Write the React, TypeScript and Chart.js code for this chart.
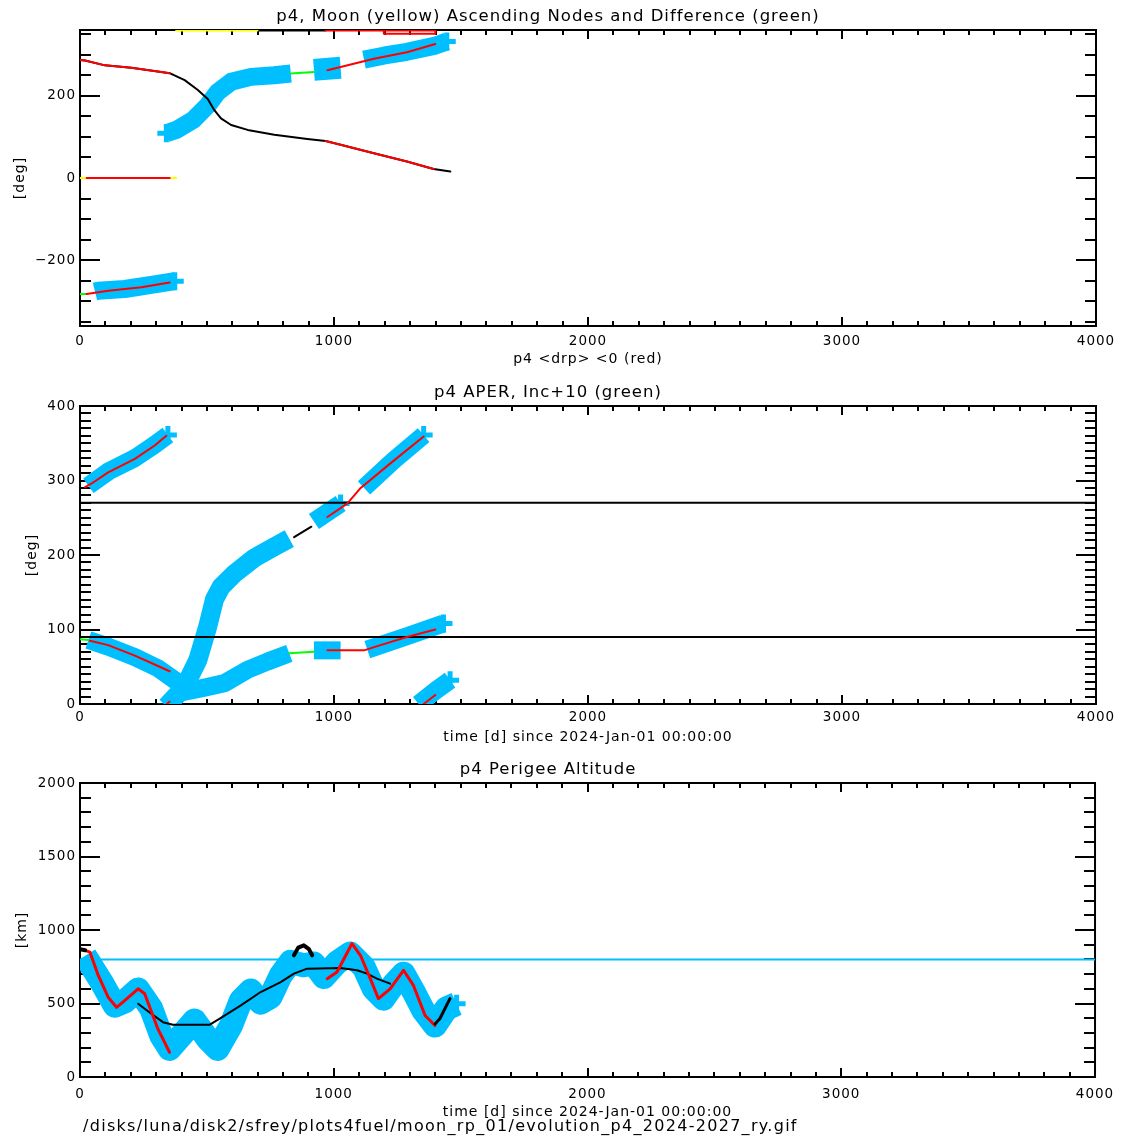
import React, { useEffect, useRef } from "react";
import { Chart, registerables } from "chart.js";

Chart.register(...registerables);

const FONT = "'DejaVu Sans', sans-serif";
const CYAN = "#00bfff";
const RED = "#ff0000";
const BLACK = "#000000";
const YELLOW = "#ffff00";
const GREEN = "#00ff00";

// ---------- shared axis values ----------
const X_TICKS = [0, 1000, 2000, 3000, 4000];
const X_MIN = 0;
const X_MAX = 4000;

// ---------- panel 1: ascending nodes (deg) ----------
const P1_Y_TICKS = [-200, 0, 200];
const P1_Y_MIN = -360;
const P1_Y_MAX = 360;

const P1_NODE_DAYS = [0, 20, 98, 202, 320, 353, 412, 464, 503, 529, 555, 595, 660, 765, 895, 967, 1026, 1157, 1287, 1392, 1458];
const P1_NODE_DEG = [287, 286, 274, 268, 258, 255, 238, 214, 192, 165, 145, 129, 117, 105, 95, 90, 81, 60, 40, 22, 16];
const P1_NODE_RED_A_DAYS = [0, 20, 98, 202, 320, 353];
const P1_NODE_RED_A_DEG = [287, 286, 274, 268, 258, 255];
const P1_NODE_RED_B_DAYS = [967, 1026, 1157, 1287, 1392];
const P1_NODE_RED_B_DEG = [90, 81, 60, 40, 22];

const P1_MOON_LOW_DAYS = [0, 379];
const P1_MOON_LOW_DEG = [0, 0];
const P1_MOON_LOW_RED_DAYS = [26, 353];
const P1_MOON_LOW_RED_DEG = [0, 0];
const P1_MOON_TOP_Y_DAYS = [379, 699];
const P1_MOON_TOP_Y_DEG = [359, 359];
const P1_MOON_TOP_K_DAYS = [699, 967];
const P1_MOON_TOP_K_DEG = [359, 359];
const P1_MOON_TOP_R_DAYS = [967, 1399];
const P1_MOON_TOP_R_DEG = [359, 359];
const P1_MOON_TOP_R2_DAYS = [1196, 1196, 1399, 1399];
const P1_MOON_TOP_R2_DEG = [359, 351, 351, 359];

const P1_BAND_A_DAYS = [59, 72, 176, 281, 373];
const P1_BAND_A_DEG = [-276, -274, -270, -260, -251];
const P1_BAND_B_DAYS = [340, 379, 445, 503, 542, 595, 673, 765, 830];
const P1_BAND_B_DEG = [109, 117, 141, 177, 209, 234, 246, 250, 254];
const P1_BAND_C_DAYS = [921, 1026];
const P1_BAND_C_DEG = [263, 268];
const P1_BAND_D_DAYS = [1118, 1200, 1287, 1399, 1444];
const P1_BAND_D_DEG = [288, 298, 307, 322, 332];

const P1_GREEN_A_DAYS = [0, 26];
const P1_GREEN_A_DEG = [-282, -282];
const P1_GREEN_B_DAYS = [830, 921];
const P1_GREEN_B_DEG = [254, 258];
const P1_DIFF_RED_A_DAYS = [26, 111, 242, 353];
const P1_DIFF_RED_A_DEG = [-282, -274, -266, -254];
const P1_DIFF_RED_B_DAYS = [974, 1026, 1157, 1287, 1399];
const P1_DIFF_RED_B_DEG = [262, 270, 290, 306, 326];

// ---------- panel 2: APER, Inc+10 (deg) ----------
const P2_Y_TICKS = [0, 100, 200, 300, 400];
const P2_Y_MIN = 0;
const P2_Y_MAX = 400;
const P2_REF_DAYS = [0, 4000];
const P2_REF_LOW = [90, 90];
const P2_REF_HIGH = [270, 270];

const P2_BAND_A_DAYS = [33, 111, 216, 294, 346];
const P2_BAND_A_DEG = [293, 312, 330, 348, 361];
const P2_RED_A_DAYS = [20, 46, 111, 216, 294, 340];
const P2_RED_A_DEG = [291, 296, 311, 329, 347, 360];

const P2_BAND_B_DAYS = [33, 111, 216, 307, 373, 425];
const P2_BAND_B_DEG = [86, 77, 63, 48, 32, 20];
const P2_RED_B_DAYS = [39, 111, 216, 307, 353];
const P2_RED_B_DEG = [85, 79, 65, 51, 44];
const P2_GREEN_B_DAYS = [0, 33];
const P2_GREEN_B_DEG = [87, 86];

const P2_BAND_C_DAYS = [340, 412, 464, 503, 529, 555, 608, 686, 765, 824];
const P2_BAND_C_DEG = [-3, 23, 59, 104, 140, 157, 175, 196, 211, 222];
const P2_BLACK_C_DAYS = [843, 911];
const P2_BLACK_C_DEG = [224, 238];
const P2_BAND_C2_DAYS = [921, 1026];
const P2_BAND_C2_DEG = [245, 269];
const P2_BAND_C3_DAYS = [1118, 1235, 1353];
const P2_BAND_C3_DEG = [290, 327, 361];
const P2_RED_C_DAYS = [974, 1052, 1105, 1222, 1353];
const P2_RED_C_DEG = [251, 269, 290, 323, 359];

const P2_BAND_D_DAYS = [373, 477, 569, 660, 739, 824];
const P2_BAND_D_DEG = [14, 21, 28, 46, 57, 68];
const P2_GREEN_D_DAYS = [824, 921];
const P2_GREEN_D_DEG = [68, 70];
const P2_BAND_D2_DAYS = [921, 1026];
const P2_BAND_D2_DEG = [72, 72];
const P2_BAND_D3_DAYS = [1131, 1287, 1431];
const P2_BAND_D3_DEG = [73, 91, 108];
const P2_RED_D_DAYS = [974, 1118, 1183, 1287, 1399];
const P2_RED_D_DEG = [72, 72, 79, 90, 100];

const P2_BAND_E_DAYS = [1333, 1400, 1457];
const P2_BAND_E_DEG = [0, 18, 32];
const P2_RED_E_DAYS = [1353, 1399];
const P2_RED_E_DEG = [0, 12];
const P2_RED_F_DAYS = [342, 352];
const P2_RED_F_DEG = [0, 3];

// ---------- panel 3: perigee altitude (km) ----------
const P3_Y_TICKS = [0, 500, 1000, 1500, 2000];
const P3_Y_MIN = 0;
const P3_Y_MAX = 2000;
const P3_REF_DAYS = [0, 4000];
const P3_REF_KM = [800, 800];

const P3_BAND_DAYS = [20, 85, 137, 176, 229, 281, 320, 353, 399, 451, 503, 542, 595, 634, 673, 712, 751, 791, 830, 882, 921, 961, 1013, 1065, 1118, 1157, 1196, 1235, 1275, 1314, 1353, 1399, 1444, 1484];
const P3_BAND_KM = [824, 646, 485, 514, 596, 464, 282, 191, 282, 385, 260, 191, 350, 521, 589, 505, 545, 691, 783, 760, 772, 680, 779, 840, 749, 601, 533, 628, 703, 583, 453, 350, 466, 498];
const P3_RED_A_DAYS = [20, 39, 72, 111, 144, 176, 229, 255, 307, 353];
const P3_RED_A_KM = [862, 850, 691, 543, 474, 520, 600, 566, 327, 168];
const P3_RED_B_DAYS = [974, 1013, 1072, 1105, 1144, 1176, 1222, 1275, 1314, 1360, 1399];
const P3_RED_B_KM = [669, 714, 908, 828, 669, 533, 600, 726, 623, 418, 350];
const P3_BLACK_DAYS = [229, 281, 327, 366, 510, 549, 634, 712, 791, 843, 895, 1026, 1092, 1131, 1170, 1222];
const P3_BLACK_KM = [498, 430, 373, 355, 355, 396, 487, 578, 646, 703, 737, 741, 726, 703, 669, 635];
const P3_HUMP_DAYS = [843, 860, 882, 902, 915];
const P3_HUMP_KM = [828, 880, 896, 870, 828];
const P3_BLACK_START_DAYS = [0, 20];
const P3_BLACK_START_KM = [870, 862];
const P3_BLACK_END_DAYS = [1399, 1418, 1458];
const P3_BLACK_END_KM = [361, 396, 533];

const FILE_NOTE = "/disks/luna/disk2/sfrey/plots4fuel/moon_rp_01/evolution_p4_2024-2027_ry.gif";

// ---------- helpers ----------
type Kind = "band" | "base" | "over";
interface Seg {
  days: number[];
  vals: number[];
  color: string;
  width: number;
  kind: Kind;
  ends?: [boolean, boolean];
}
const seg = (days: number[], vals: number[], color: string, width: number, kind: Kind, ends?: [boolean, boolean]): Seg => ({ days, vals, color, width, kind, ends });

const CROSS_R = 9;
function makeDataset(s: Seg) {
  const n = s.days.length;
  const ends = s.ends || [false, false];
  return {
    data: s.days.map((d, i) => ({ x: d, y: s.vals[i] })),
    borderColor: s.color,
    backgroundColor: s.color,
    borderWidth: s.width,
    fill: false,
    tension: 0,
    borderCapStyle: s.kind === "band" ? "butt" : "round",
    borderJoinStyle: "round",
    pointStyle: "cross",
    pointRadius: s.days.map((_, i) => ((i === 0 && ends[0]) || (i === n - 1 && ends[1]) ? CROSS_R : 0)),
    pointHoverRadius: 0,
    pointBorderColor: s.color,
    pointBorderWidth: 5,
    order: s.kind === "band" ? 3 : s.kind === "base" ? 2 : 1,
  };
}

const fmtTick = (v: any) => (Number(v) < 0 ? "\u2212" + String(-Number(v)) : String(v));

const idlAxes = {
  id: "idlAxes",
  beforeDraw(chart: any) {
    const ctx = chart.ctx;
    if ("letterSpacing" in ctx) ctx.letterSpacing = "1px";
  },
  beforeDatasetsDraw(chart: any, _args: any, opts: any) {
    const { ctx, chartArea } = chart;
    const { left, right, top, bottom } = chartArea;
    const xs = chart.scales.x;
    const ys = chart.scales.y;
    ctx.save();
    ctx.strokeStyle = "#000";
    ctx.lineWidth = 2;
    ctx.strokeRect(left, top, right - left, bottom - top);
    ctx.beginPath();
    const isMajor = (v: number, m: number) => Math.abs(v / m - Math.round(v / m)) < 1e-9;
    for (let v = Math.ceil(xs.min / opts.xMinor) * opts.xMinor; v <= xs.max + 1e-9; v += opts.xMinor) {
      const px = Math.round(xs.getPixelForValue(v));
      const len = isMajor(v, opts.xMajor) ? 9 : 5;
      ctx.moveTo(px, bottom);
      ctx.lineTo(px, bottom - len);
      ctx.moveTo(px, top);
      ctx.lineTo(px, top + len);
    }
    for (let v = Math.ceil(ys.min / opts.yMinor) * opts.yMinor; v <= ys.max + 1e-9; v += opts.yMinor) {
      const py = Math.round(ys.getPixelForValue(v));
      const len = isMajor(v, opts.yMajor) ? 20 : 11;
      ctx.moveTo(left, py);
      ctx.lineTo(left + len, py);
      ctx.moveTo(right, py);
      ctx.lineTo(right - len, py);
    }
    ctx.stroke();
    ctx.restore();
  },
};

const footnote = {
  id: "footnote",
  afterDraw(chart: any, _args: any, opts: any) {
    if (!opts || !opts.text) return;
    const ctx = chart.ctx;
    ctx.save();
    ctx.font = `${opts.size}px ${FONT}`;
    ctx.fillStyle = "#000";
    ctx.textAlign = "left";
    ctx.textBaseline = "middle";
    if ("letterSpacing" in ctx) ctx.letterSpacing = `${opts.spacing}px`;
    ctx.fillText(opts.text, opts.x, opts.y);
    ctx.restore();
  },
};

interface PanelSpec {
  height: number;
  top: number;
  title: string;
  titlePad: { top: number; bottom: number };
  xTitle: string;
  xAxisHeight: number;
  xTickPad: number;
  xTitlePadBottom: number;
  yTitle: string;
  yTitlePadTop: number;
  yMin: number;
  yMax: number;
  yTicks: number[];
  yMajor: number;
  yMinor: number;
  segs: Seg[];
  note?: { text: string; x: number; y: number; size: number; spacing: number };
}

const TITLE_SIZE = 16.5;

function buildConfig(p: PanelSpec): any {
  return {
    type: "line",
    data: { datasets: p.segs.map(makeDataset) },
    options: {
      animation: false,
      responsive: false,
      events: [],
      layout: { padding: { left: 0, right: 26, top: 0, bottom: 0 } },
      plugins: {
        legend: { display: false },
        tooltip: { enabled: false },
        title: {
          display: true,
          text: p.title,
          color: "#000",
          font: { family: FONT, size: TITLE_SIZE, weight: "normal" },
          padding: p.titlePad,
        },
        idlAxes: { xMajor: 1000, xMinor: 100, yMajor: p.yMajor, yMinor: p.yMinor },
        footnote: p.note || {},
      },
      scales: {
        x: {
          type: "linear",
          min: X_MIN,
          max: X_MAX,
          afterBuildTicks: (s: any) => {
            s.ticks = X_TICKS.map((v) => ({ value: v }));
          },
          afterFit: (s: any) => {
            s.height = p.xAxisHeight;
          },
          grid: { display: false, drawTicks: false },
          border: { display: false },
          ticks: {
            color: "#000",
            font: { family: FONT, size: 13.5 },
            padding: p.xTickPad,
            maxRotation: 0,
            autoSkip: false,
            callback: fmtTick,
          },
          title: {
            display: true,
            text: p.xTitle,
            color: "#000",
            font: { family: FONT, size: 14 },
            padding: { top: 0, bottom: p.xTitlePadBottom },
          },
        },
        y: {
          type: "linear",
          min: p.yMin,
          max: p.yMax,
          afterBuildTicks: (s: any) => {
            s.ticks = p.yTicks.map((v) => ({ value: v }));
          },
          afterFit: (s: any) => {
            s.width = 80;
          },
          grid: { display: false, drawTicks: false },
          border: { display: false },
          ticks: {
            color: "#000",
            font: { family: FONT, size: 13.5 },
            padding: 4,
            autoSkip: false,
            callback: fmtTick,
          },
          title: {
            display: true,
            text: p.yTitle,
            color: "#000",
            font: { family: FONT, size: 14 },
            padding: { top: p.yTitlePadTop, bottom: 0 },
          },
        },
      },
    },
    plugins: [idlAxes, footnote],
  };
}

const PANEL1: PanelSpec = {
  height: 376,
  top: 0,
  title: "p4, Moon (yellow) Ascending Nodes and Difference (green)",
  titlePad: { top: 7.1, bottom: 3.1 },
  xTitle: "p4 <drp> <0 (red)",
  xAxisHeight: 50,
  xTickPad: 7.8,
  xTitlePadBottom: 8.6,
  yTitle: "[deg]",
  yTitlePadTop: 11.6,
  yMin: P1_Y_MIN,
  yMax: P1_Y_MAX,
  yTicks: P1_Y_TICKS,
  yMajor: 200,
  yMinor: 50,
  segs: [
    seg(P1_BAND_A_DAYS, P1_BAND_A_DEG, CYAN, 18, "band", [false, true]),
    seg(P1_BAND_B_DAYS, P1_BAND_B_DEG, CYAN, 18, "band", [true, false]),
    seg(P1_BAND_C_DAYS, P1_BAND_C_DEG, CYAN, 22, "band"),
    seg(P1_BAND_D_DAYS, P1_BAND_D_DEG, CYAN, 18, "band", [false, true]),
    seg(P1_NODE_DAYS, P1_NODE_DEG, BLACK, 2, "base"),
    seg(P1_MOON_LOW_DAYS, P1_MOON_LOW_DEG, YELLOW, 2, "base"),
    seg(P1_MOON_TOP_Y_DAYS, P1_MOON_TOP_Y_DEG, YELLOW, 2, "base"),
    seg(P1_MOON_TOP_K_DAYS, P1_MOON_TOP_K_DEG, BLACK, 2, "base"),
    seg(P1_GREEN_A_DAYS, P1_GREEN_A_DEG, GREEN, 2, "base"),
    seg(P1_GREEN_B_DAYS, P1_GREEN_B_DEG, GREEN, 2, "base"),
    seg(P1_NODE_RED_A_DAYS, P1_NODE_RED_A_DEG, RED, 2, "over"),
    seg(P1_NODE_RED_B_DAYS, P1_NODE_RED_B_DEG, RED, 2, "over"),
    seg(P1_MOON_LOW_RED_DAYS, P1_MOON_LOW_RED_DEG, RED, 2, "over"),
    seg(P1_MOON_TOP_R_DAYS, P1_MOON_TOP_R_DEG, RED, 2, "over"),
    seg(P1_MOON_TOP_R2_DAYS, P1_MOON_TOP_R2_DEG, RED, 2, "over"),
    seg(P1_DIFF_RED_A_DAYS, P1_DIFF_RED_A_DEG, RED, 2, "over"),
    seg(P1_DIFF_RED_B_DAYS, P1_DIFF_RED_B_DEG, RED, 2, "over"),
  ],
};

const PANEL2: PanelSpec = {
  height: 376,
  top: 376,
  title: "p4 APER, Inc+10 (green)",
  titlePad: { top: 7.1, bottom: 3.1 },
  xTitle: "time [d] since 2024-Jan-01 00:00:00",
  xAxisHeight: 48,
  xTickPad: 5.8,
  xTitlePadBottom: 6.6,
  yTitle: "[deg]",
  yTitlePadTop: 23.6,
  yMin: P2_Y_MIN,
  yMax: P2_Y_MAX,
  yTicks: P2_Y_TICKS,
  yMajor: 100,
  yMinor: 10,
  segs: [
    seg(P2_BAND_A_DAYS, P2_BAND_A_DEG, CYAN, 18, "band", [false, true]),
    seg(P2_BAND_B_DAYS, P2_BAND_B_DEG, CYAN, 18, "band"),
    seg(P2_BAND_C_DAYS, P2_BAND_C_DEG, CYAN, 19, "band", [true, false]),
    seg(P2_BAND_C2_DAYS, P2_BAND_C2_DEG, CYAN, 18, "band", [false, true]),
    seg(P2_BAND_C3_DAYS, P2_BAND_C3_DEG, CYAN, 18, "band", [false, true]),
    seg(P2_BAND_D_DAYS, P2_BAND_D_DEG, CYAN, 18, "band"),
    seg(P2_BAND_D2_DAYS, P2_BAND_D2_DEG, CYAN, 18, "band"),
    seg(P2_BAND_D3_DAYS, P2_BAND_D3_DEG, CYAN, 18, "band", [false, true]),
    seg(P2_BAND_E_DAYS, P2_BAND_E_DEG, CYAN, 18, "band", [false, true]),
    seg(P2_REF_DAYS, P2_REF_LOW, BLACK, 2, "base"),
    seg(P2_REF_DAYS, P2_REF_HIGH, BLACK, 2, "base"),
    seg(P2_GREEN_B_DAYS, P2_GREEN_B_DEG, GREEN, 2, "base"),
    seg(P2_GREEN_D_DAYS, P2_GREEN_D_DEG, GREEN, 2, "base"),
    seg(P2_BLACK_C_DAYS, P2_BLACK_C_DEG, BLACK, 2, "base"),
    seg(P2_RED_A_DAYS, P2_RED_A_DEG, RED, 2, "over"),
    seg(P2_RED_B_DAYS, P2_RED_B_DEG, RED, 2, "over"),
    seg(P2_RED_C_DAYS, P2_RED_C_DEG, RED, 2, "over"),
    seg(P2_RED_D_DAYS, P2_RED_D_DEG, RED, 2, "over"),
    seg(P2_RED_E_DAYS, P2_RED_E_DEG, RED, 2, "over"),
    seg(P2_RED_F_DAYS, P2_RED_F_DEG, RED, 2, "over"),
  ],
};

const PANEL3: PanelSpec = {
  height: 386,
  top: 752,
  title: "p4 Perigee Altitude",
  titlePad: { top: 8.1, bottom: 3.1 },
  xTitle: "time [d] since 2024-Jan-01 00:00:00",
  xAxisHeight: 61,
  xTickPad: 9.8,
  xTitlePadBottom: 17.6,
  yTitle: "[km]",
  yTitlePadTop: 13.6,
  yMin: P3_Y_MIN,
  yMax: P3_Y_MAX,
  yTicks: P3_Y_TICKS,
  yMajor: 500,
  yMinor: 100,
  segs: [
    seg(P3_BAND_DAYS, P3_BAND_KM, CYAN, 24, "band", [false, true]),
    seg(P3_REF_DAYS, P3_REF_KM, CYAN, 2, "base"),
    seg(P3_BLACK_DAYS, P3_BLACK_KM, BLACK, 2, "base"),
    seg(P3_HUMP_DAYS, P3_HUMP_KM, BLACK, 4, "over"),
    seg(P3_BLACK_START_DAYS, P3_BLACK_START_KM, BLACK, 4, "over"),
    seg(P3_BLACK_END_DAYS, P3_BLACK_END_KM, BLACK, 3, "over"),
    seg(P3_RED_A_DAYS, P3_RED_A_KM, RED, 3, "over"),
    seg(P3_RED_B_DAYS, P3_RED_B_KM, RED, 3, "over"),
  ],
  note: { text: FILE_NOTE, x: 83, y: 375, size: 16, spacing: 1.3 },
};

function Panel({ spec }: { spec: PanelSpec }) {
  const ref = useRef<HTMLCanvasElement | null>(null);
  useEffect(() => {
    if (!ref.current) return;
    const chart = new Chart(ref.current, buildConfig(spec));
    return () => chart.destroy();
  }, [spec]);
  return (
    <canvas
      ref={ref}
      width={1122}
      height={spec.height}
      style={{ position: "absolute", left: 0, top: spec.top, width: 1122, height: spec.height, display: "block" }}
    />
  );
}

export default function App() {
  return (
    <div style={{ position: "absolute", left: 0, top: 0, width: 1122, height: 1138, background: "#fff", overflow: "hidden" }}>
      <Panel spec={PANEL1} />
      <Panel spec={PANEL2} />
      <Panel spec={PANEL3} />
    </div>
  );
}
